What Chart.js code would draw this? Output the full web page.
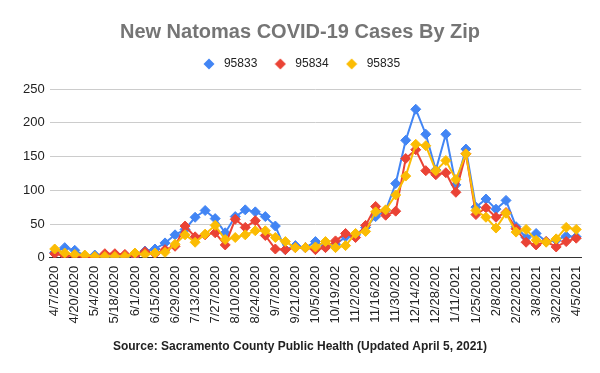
<!DOCTYPE html>
<html>
<head>
<meta charset="utf-8">
<script src="https://cdn.jsdelivr.net/npm/chart.js@4"></script>
<style>
  html, body { margin: 0; padding: 0; background: #fff; }
  #wrap { width: 600px; height: 373px; }
</style>
</head>
<body>
<div id="wrap"><canvas id="myChart" width="600" height="373"></canvas></div>
<script>
// weekly dates, one per point
const dates = [
  "4/7/2020", "4/13/2020", "4/20/2020", "4/27/2020", "5/4/2020", "5/11/2020", "5/18/2020", "5/25/2020",
  "6/1/2020", "6/8/2020", "6/15/2020", "6/22/2020", "6/29/2020", "7/6/2020", "7/13/2020", "7/20/2020",
  "7/27/2020", "8/3/2020", "8/10/2020", "8/17/2020", "8/24/2020", "8/31/2020", "9/7/2020", "9/14/2020",
  "9/21/2020", "9/28/2020", "10/5/2020", "10/12/2020", "10/19/2020", "10/26/2020", "11/2/2020", "11/9/2020",
  "11/16/2020", "11/23/2020", "11/30/2020", "12/7/2020", "12/14/2020", "12/21/2020", "12/28/2020", "1/4/2021",
  "1/11/2021", "1/18/2021", "1/25/2021", "2/1/2021", "2/8/2021", "2/15/2021", "2/22/2021", "3/1/2021",
  "3/8/2021", "3/15/2021", "3/22/2021", "3/29/2021", "4/5/2021"
];

// labels as they show under the axis (every other week, some cut short)
const tickLabels = [
  "4/7/2020", "4/20/2020", "5/4/2020", "5/18/2020", "6/1/2020", "6/15/2020", "6/29/2020",
  "7/13/2020", "7/27/2020", "8/10/2020", "8/24/2020", "9/7/2020", "9/21/2020", "10/5/2020",
  "10/19/202", "11/2/2020", "11/16/202", "11/30/202", "12/14/202", "12/28/202", "1/11/2021",
  "1/25/2021", "2/8/2021", "2/22/2021", "3/8/2021", "3/22/2021", "4/5/2021"
];

const zip95833 = [
  8, 15, 11, 3, 4, 2, 2, 2, 3, 10, 13, 22, 34, 42, 60, 70,
  58, 37, 61, 71, 68, 61, 47, 12, 18, 15, 24, 16, 20, 31, 34, 45,
  61, 70, 110, 174, 220, 183, 130, 183, 108, 161, 75, 87, 72, 85, 46, 30,
  36, 24, 26, 32, 31
];
const zip95834 = [
  6, 3, 3, 1, 1, 6, 6, 5, 3, 9, 6, 12, 17, 47, 31, 34,
  37, 19, 57, 45, 55, 33, 13, 12, 15, 15, 12, 15, 25, 36, 30, 48,
  76, 63, 69, 147, 160, 129, 123, 126, 97, 154, 64, 74, 60, 67, 43, 23,
  19, 24, 16, 24, 29
];
const zip95835 = [
  13, 7, 5, 4, 2, 2, 2, 2, 7, 5, 7, 8, 20, 34, 23, 35,
  48, 27, 30, 34, 40, 40, 30, 24, 15, 15, 16, 24, 15, 18, 36, 39,
  68, 71, 93, 121, 168, 166, 129, 144, 116, 154, 70, 60, 44, 66, 38, 42,
  26, 23, 28, 45, 42
];

const FONT = "'Liberation Sans', Arial, sans-serif";

function series(label, values, color, order) {
  return {
    label: label,
    data: values,
    borderColor: color,
    backgroundColor: color,
    borderWidth: 2,
    tension: 0,
    pointStyle: 'rectRot',
    pointRadius: 5,
    pointHoverRadius: 5,
    pointBorderWidth: 1,
    pointBackgroundColor: color,
    pointBorderColor: color,
    order: order
  };
}

// small diamond image for the legend (keeps it square while the box is wider)
function diamond(color) {
  const c = document.createElement('canvas');
  c.width = 12;
  c.height = 12;
  const g = c.getContext('2d');
  g.fillStyle = color;
  g.beginPath();
  g.moveTo(6, 0.5);
  g.lineTo(11.5, 6);
  g.lineTo(6, 11.5);
  g.lineTo(0.5, 6);
  g.closePath();
  g.fill();
  return c;
}

// a bit more room under the legend
const legendGap = {
  id: 'legendGap',
  beforeInit(chart) {
    const fit = chart.legend.fit;
    chart.legend.fit = function () {
      fit.bind(chart.legend)();
      this.height += 9;
    };
  }
};

const ctx = document.getElementById('myChart').getContext('2d');
const myChart = new Chart(ctx, {
  type: 'line',
  data: {
    labels: dates,
    datasets: [
      series('95833', zip95833, '#4285F4', 3),
      series('95834', zip95834, '#EA4335', 2),
      series('95835', zip95835, '#FBBC04', 1)
    ]
  },
  plugins: [legendGap],
  options: {
    responsive: false,
    animation: false,
    layout: { padding: { left: 18, right: 18, top: 0, bottom: 0 } },
    plugins: {
      title: {
        display: true,
        text: 'New Natomas COVID-19 Cases By Zip',
        color: '#757575',
        font: { family: FONT, size: 20, weight: 'bold' },
        padding: { top: 20, bottom: 0 }
      },
      subtitle: {
        display: true,
        position: 'bottom',
        text: 'Source: Sacramento County Public Health (Updated April 5, 2021)',
        color: '#222',
        font: { family: FONT, size: 12, weight: 'bold' },
        padding: { top: 8, bottom: 19 }
      },
      legend: {
        display: true,
        position: 'top',
        labels: {
          usePointStyle: true,
          pointStyleWidth: 18,
          boxHeight: 8,
          padding: 14,
          color: '#222',
          font: { family: FONT, size: 12 },
          sort: (a, b) => a.datasetIndex - b.datasetIndex,
          generateLabels: (chart) => {
            const items = Chart.defaults.plugins.legend.labels.generateLabels(chart);
            items.forEach((it) => {
              it.pointStyle = diamond(chart.data.datasets[it.datasetIndex].borderColor);
            });
            return items;
          }
        }
      },
      tooltip: { enabled: false }
    },
    scales: {
      x: {
        offset: true,
        grid: { display: false, drawTicks: false },
        border: { display: true, color: '#333', width: 1 },
        ticks: {
          autoSkip: false,
          maxRotation: 90,
          minRotation: 90,
          padding: 8,
          color: '#222',
          font: { family: FONT, size: 13 },
          callback: (val, i) => (i % 2 === 0 ? tickLabels[i / 2] : '')
        }
      },
      y: {
        min: 0,
        max: 250,
        grid: { color: '#cccccc', drawTicks: false },
        border: { display: false },
        ticks: {
          stepSize: 50,
          padding: 5,
          color: '#222',
          font: { family: FONT, size: 13 }
        }
      }
    }
  }
});
</script>
</body>
</html>
